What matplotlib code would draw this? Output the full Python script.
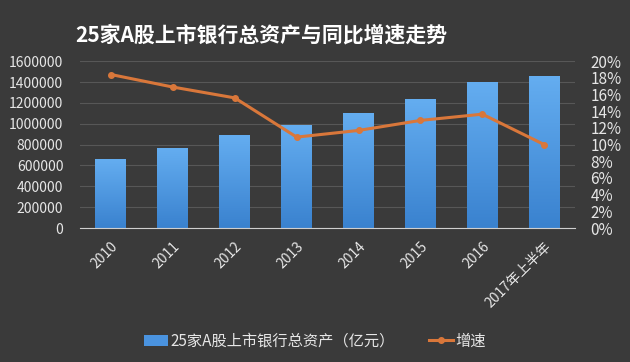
import numpy as np
import matplotlib.pyplot as plt
from matplotlib.ticker import FuncFormatter
from matplotlib.colors import LinearSegmentedColormap

plt.rcParams['font.family'] = ['Noto Sans CJK SC', 'DejaVu Sans']

# data
years = ['2010', '2011', '2012', '2013', '2014', '2015', '2016', '2017年上半年']
assets = [660000, 766000, 890000, 987000, 1099000, 1236000, 1399000, 1456000]
growth = [18.4, 16.9, 15.6, 10.9, 11.7, 12.9, 13.65, 10.0]

bg = '#3a3a3a'
txt = '#e6e6e6'

fig = plt.figure(figsize=(6.3, 3.62), dpi=100, facecolor=bg)
ax = fig.add_axes([0.127, 0.37, 0.786, 0.461])
ax.set_facecolor('none')

x = range(len(years))
bars = ax.bar(x, assets, width=0.5, color='#4a93df', zorder=2,
              label='25家A股上市银行总资产（亿元）')

# vertical gradient on the bars, lighter at top
cmap = LinearSegmentedColormap.from_list('b', ['#3a82cf', '#64adf0'])
grad = np.linspace(0, 1, 100).reshape(-1, 1)
for b in bars:
    im = ax.imshow(grad, cmap=cmap, origin='lower', aspect='auto', zorder=2,
                   extent=[b.get_x(), b.get_x() + b.get_width(), 0, b.get_height()])
    im.set_clip_path(b)
ax.set_xlim(-0.5, len(years) - 0.5)
ax.set_ylim(0, 1600000)

ax.set_yticks(range(0, 1600001, 200000))
ax.yaxis.set_major_formatter(FuncFormatter(lambda v, p: '%d' % v))
ax.grid(axis='y', color='#575757', linewidth=0.8, zorder=0)
ax.set_xticks(list(x))
ax.set_xticklabels(years, rotation=45, ha='right', rotation_mode='anchor')

ax2 = ax.twinx()
ax2.set_position(ax.get_position())
line, = ax2.plot(x, growth, color='#d9773a', linewidth=2.2, marker='o',
                 markersize=4, label='增速', zorder=3)
ax2.set_ylim(0, 20)
ax2.set_yticks(range(0, 21, 2))
ax2.yaxis.set_major_formatter(FuncFormatter(lambda v, p: '%d%%' % v))

for a in (ax, ax2):
    for s in a.spines.values():
        s.set_visible(False)
    a.tick_params(colors=txt, labelsize=10, length=0)
ax.spines['bottom'].set_visible(True)
ax.spines['bottom'].set_color('#cfcfcf')
ax.tick_params(axis='x', pad=8)
ax.tick_params(axis='y', pad=12)
ax2.tick_params(axis='y', pad=11, labelsize=11)

fig.text(0.415, 0.903, '25家A股上市银行总资产与同比增速走势', color='white',
         fontsize=15, fontweight='bold', ha='center', va='center')

leg = fig.legend([bars, line], [bars.get_label(), '增速'], loc='center',
                 bbox_to_anchor=(0.5, 0.058), ncol=2, frameon=False,
                 fontsize=11, handlelength=1.6, handletextpad=0.15,
                 columnspacing=2.2)
for t in leg.get_texts():
    t.set_color(txt)

plt.savefig('out.png', facecolor=bg)
